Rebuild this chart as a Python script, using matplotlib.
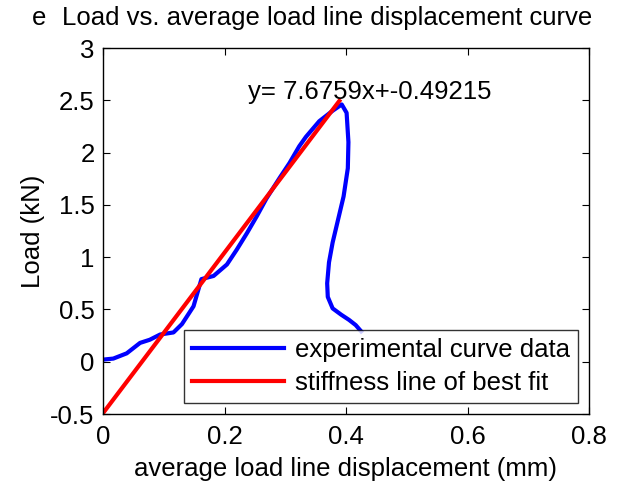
import numpy as np
import matplotlib
matplotlib.use('Agg')
import matplotlib.pyplot as plt

plt.rcParams['font.family'] = ['Liberation Sans', 'DejaVu Sans']

# measured load vs. average load line displacement
disp = [0.0, 0.017, 0.039, 0.061, 0.077, 0.094, 0.116, 0.130, 0.149, 0.162,
        0.182, 0.204, 0.220, 0.237, 0.253, 0.269, 0.291, 0.307, 0.323, 0.334,
        0.356, 0.378, 0.393, 0.401, 0.404, 0.403, 0.396, 0.387, 0.378, 0.372,
        0.369, 0.370, 0.378, 0.392, 0.405, 0.416, 0.425]
load = [0.02, 0.03, 0.08, 0.18, 0.21, 0.26, 0.28, 0.36, 0.53, 0.79,
        0.82, 0.93, 1.07, 1.23, 1.39, 1.56, 1.76, 1.90, 2.06, 2.15,
        2.30, 2.40, 2.46, 2.38, 2.10, 1.85, 1.58, 1.36, 1.14, 0.95,
        0.75, 0.62, 0.51, 0.45, 0.40, 0.35, 0.29]

slope = 7.6759
intercept = -0.49215
fit_x = np.array([0.0, 0.389])
fit_y = slope * fit_x + intercept

fs = 18.5

fig = plt.figure(figsize=(6.19, 4.86), dpi=100)
ax = fig.add_axes([103 / 619, 1 - 414 / 486, 486 / 619, 366 / 486])

ax.plot(disp, load, color='#0000ff', lw=3, label='experimental curve data')
ax.plot(fit_x, fit_y, color='#ff0000', lw=3, label='stiffness line of best fit')
ax.text(0.239, 2.58, 'y= %sx+%s' % (slope, intercept), fontsize=fs,
        ha='left', va='center')

ax.set_xlim(0, 0.8)
ax.set_ylim(-0.5, 3)
ax.set_xticks([0, 0.2, 0.4, 0.6, 0.8])
ax.set_xticklabels(['0', '0.2', '0.4', '0.6', '0.8'])
ax.set_yticks([-0.5, 0, 0.5, 1, 1.5, 2, 2.5, 3])
ax.set_yticklabels(['-0.5', '0', '0.5', '1', '1.5', '2', '2.5', '3'])
ax.tick_params(direction='in', top=True, right=True, labelsize=fs, length=5)
ax.tick_params(axis='x', pad=8)
ax.tick_params(axis='y', pad=6)
for s in ax.spines.values():
    s.set_linewidth(1.0)
ax.set_xlabel('average load line displacement (mm)', fontsize=fs, labelpad=6)
ax.set_ylabel('Load (kN)', fontsize=fs, labelpad=4)

leg = ax.legend(loc='lower right', fontsize=fs, frameon=True, fancybox=False,
                edgecolor='black', handlelength=3.6, borderaxespad=0.43,
                borderpad=0.32, labelspacing=0.33, handletextpad=0.4)
leg.get_frame().set_linewidth(1.0)
leg.set_zorder(5)

fig.text(32 / 619, 1 - 18 / 486, 'e', fontsize=fs, ha='left', va='center')
fig.text(62 / 619, 1 - 18 / 486, 'Load vs. average load line displacement curve',
         fontsize=fs, ha='left', va='center')

fig.savefig('out.png', dpi=100)
